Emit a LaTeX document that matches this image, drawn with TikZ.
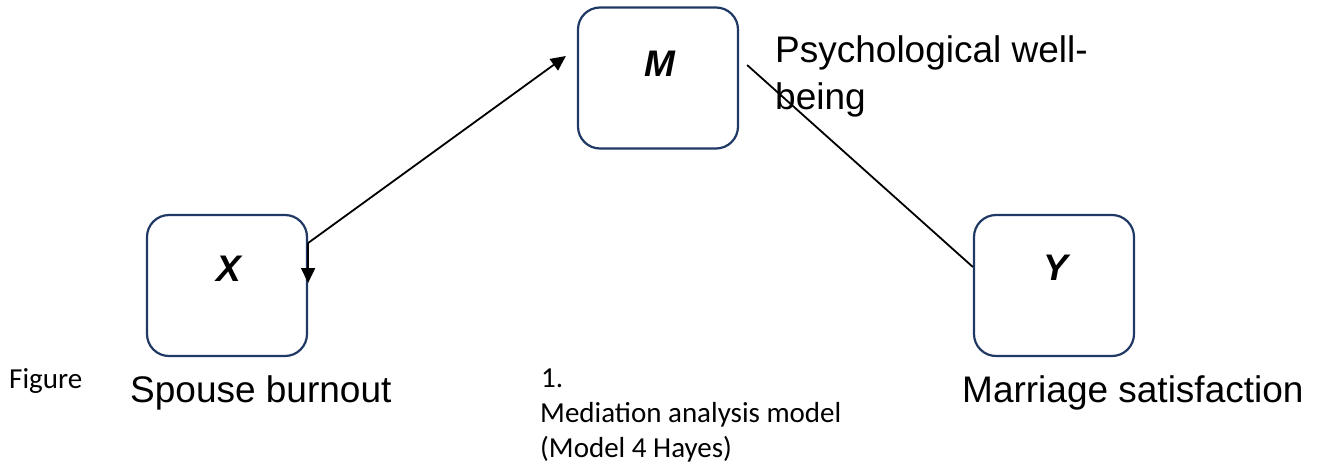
\documentclass[tikz,border=0pt]{standalone}
\usepackage{fontspec}
\setmainfont{Liberation Sans}
\newfontfamily\calib{Carlito}
\usetikzlibrary{arrows.meta}
\definecolor{boxblue}{HTML}{203864}
\begin{document}
\begin{tikzpicture}[x=1pt,y=-1pt,
  box/.style={draw=boxblue, line width=2.2pt, rounded corners=22pt, minimum width=160pt, minimum height=141pt, inner sep=0pt},
  big/.style={font=\fontsize{37}{47}\selectfont, inner sep=0pt, anchor=base west},
  small/.style={font=\calib\fontsize{29}{35}\selectfont, inner sep=0pt, anchor=base west},
  var/.style={font=\fontsize{37}{44}\selectfont\bfseries\itshape, inner sep=0pt},
  conn/.style={line width=1.8pt, black},
  tip/.style={-{Triangle[length=15pt,width=14pt]}}]
\useasboundingbox (0,0) rectangle (1320,466);
% boxes
\node[box] (X) at (227,285.5) {};
\node[box] (M) at (658,78) {};
\node[box] (Y) at (1054,285.5) {};
% variable letters
\node[var] (xl) at (229,269) {X};
\node[var] (ml) at (660,64) {M};
\node[var] (yl) at (1056,268) {Y};
% labels
\node[big] (pw1) at (775,62) {Psychological well-};
\node[big] (pw2) at (775,109) {being};
\node[big] (sb) at (130,402) {Spouse burnout};
\node[big] (ms) at (962,402) {Marriage satisfaction};
\node[small] (fig) at (9,388) {Figure};
\node[small] (one) at (541,387) {1.};
\node[small] (cap1) at (540,422) {Mediation analysis model};
\node[small] (cap2) at (540,457) {(Model 4 Hayes)};
% connectors
\coordinate (xs) at ([yshift=42.5pt]X.east);
\coordinate (xd) at ([yshift=2.5pt]X.east);
\coordinate (mt) at ([xshift=-11pt,yshift=22pt]M.west);
\coordinate (ms1) at ([xshift=8pt,yshift=13pt]M.east);
\coordinate (ye) at ([yshift=18.5pt]Y.west);
\draw[conn,tip] (xs) -- (mt);
\draw[conn,tip] (xs) -- (xd);
\draw[conn] (ms1) -- (ye);
\end{tikzpicture}
\end{document}
